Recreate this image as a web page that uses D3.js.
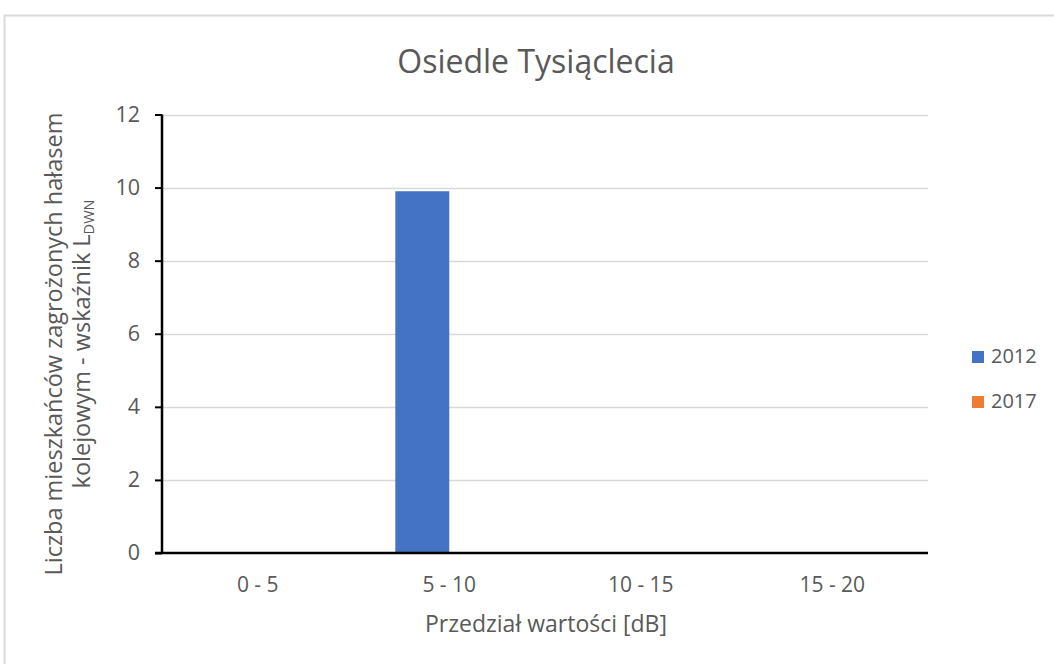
<!DOCTYPE html>
<html>
<head>
<meta charset="utf-8">
<script src="https://cdn.jsdelivr.net/npm/d3@7"></script>
<style>
body{margin:0;background:#fff;}
svg{display:block;font-family:"Open Sans",sans-serif;}
</style>
</head>
<body>
<svg id="c" width="1054" height="664"></svg>
<script>
const categories = ["0 - 5", "5 - 10", "10 - 15", "15 - 20"];
const seriesNames = ["2012", "2017"];
const values2012 = [0, 9.9, 0, 0];
const values2017 = [0, 0, 0, 0];
const yTicks = [0, 2, 4, 6, 8, 10, 12];
const colors = ["#4472C4", "#ED7D31"];
const series = [values2012, values2017];

const svg = d3.select("#c");
const pLeft = 162, pRight = 928, pTop = 114.5, pBottom = 553;
const FONT = "'Open Sans',sans-serif";

// chart border
svg.append("rect").attr("x", 4.5).attr("y", 15.5).attr("width", 1100).attr("height", 700)
  .attr("fill", "none").attr("stroke", "#d9d9d9").attr("stroke-width", 2);

const x = d3.scaleBand().domain(categories).range([pLeft, pRight]).paddingInner(0).paddingOuter(0);
const y = d3.scaleLinear().domain([0, 12]).range([pBottom, pTop]);
const gap = 1.55; // gap width relative to bar
const barW = x.bandwidth() / (2 + gap);
const xs = d3.scaleBand().domain(seriesNames).range([0, 2 * barW]);

// gridlines
svg.append("g").selectAll("line").data(yTicks.filter(d => d > 0)).join("line")
  .attr("x1", pLeft).attr("x2", pRight)
  .attr("y1", d => Math.round(y(d)) + 0.5).attr("y2", d => Math.round(y(d)) + 0.5)
  .attr("stroke", "#d9d9d9").attr("stroke-width", 1.3);

// bars
series.forEach((vals, si) => {
  svg.append("g").selectAll("rect").data(vals).join("rect")
    .attr("x", (d, i) => x(categories[i]) + x.bandwidth() / 2 - barW + xs(seriesNames[si]))
    .attr("width", barW)
    .attr("y", d => y(d))
    .attr("height", d => y(0) - y(d))
    .attr("fill", colors[si]);
});

// y axis
const yAxis = d3.axisLeft(y).tickValues(yTicks).tickSize(7).tickPadding(15);
const gy = svg.append("g").attr("transform", `translate(${pLeft},0)`).call(yAxis);
gy.select(".domain").attr("stroke", "#000").attr("stroke-width", 2.5).attr("d", `M0,${pTop}V${pBottom}`);
gy.selectAll(".tick line").attr("stroke", "#000").attr("stroke-width", 2);
gy.selectAll(".tick text").attr("fill", "#595959").style("font-size", "21.5px").style("font-family", FONT);

// x axis
const xAxis = d3.axisBottom(x).tickSize(0).tickPadding(24);
const gx = svg.append("g").attr("transform", `translate(0,${pBottom})`).call(xAxis);
gx.select(".domain").attr("stroke", "#000").attr("stroke-width", 2.5).attr("d", `M${pLeft - 7},0H${pRight}`);
gx.selectAll(".tick text").attr("fill", "#595959").style("font-size", "21px").style("font-family", FONT);

// title
svg.append("text").attr("x", 536).attr("y", 73).attr("text-anchor", "middle")
  .attr("fill", "#595959").style("font-size", "32px").text("Osiedle Tysiąclecia");

// x title
svg.append("text").attr("x", 546).attr("y", 632).attr("text-anchor", "middle")
  .attr("fill", "#595959").style("font-size", "23px").text("Przedział wartości [dB]");

// y title
const yt = svg.append("text").attr("transform", "translate(0,344) rotate(-90)")
  .attr("text-anchor", "middle").attr("fill", "#595959").style("font-size", "23.5px");
yt.append("tspan").attr("x", 0).attr("y", 62).text("Liczba mieszkańców zagrożonych hałasem");
yt.append("tspan").attr("x", 0).attr("y", 90).text("kolejowym - wskaźnik L")
  .append("tspan").attr("dy", 4).style("font-size", "14.5px").text("DWN");

// legend
const lg = svg.append("g");
seriesNames.forEach((n, i) => {
  const ly = 351 + i * 45;
  lg.append("rect").attr("x", 972).attr("y", ly).attr("width", 12).attr("height", 12).attr("fill", colors[i]);
  lg.append("text").attr("x", 991).attr("y", ly + 12).attr("fill", "#595959").style("font-size", "20px").text(n);
});
</script>
</body>
</html>
